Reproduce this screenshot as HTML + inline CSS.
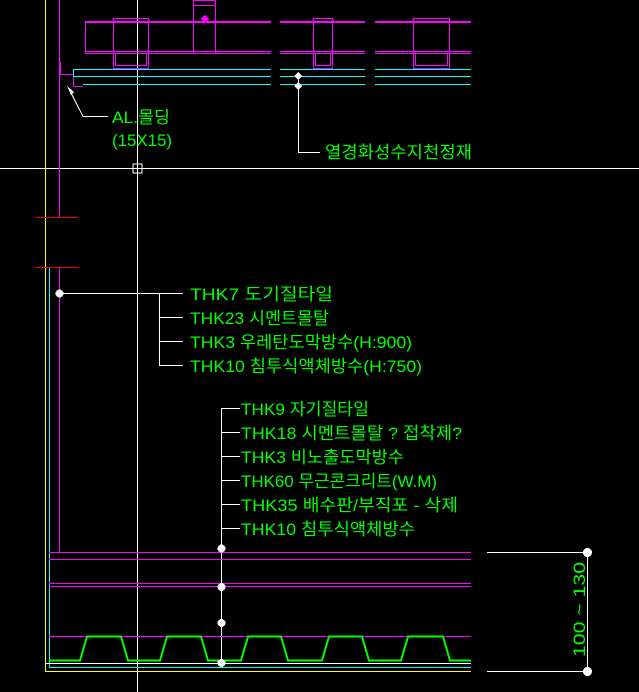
<!DOCTYPE html>
<html><head><meta charset="utf-8"><style>
html,body{margin:0;padding:0;background:#000;width:639px;height:692px;overflow:hidden}
svg{display:block}
text{font-family:"Liberation Sans","Noto Sans CJK KR","NanumGothic",sans-serif;fill:#00ff00;font-size:17px}
</style></head><body>
<svg width="639" height="692" viewBox="0 0 639 692" xmlns="http://www.w3.org/2000/svg" shape-rendering="crispEdges">
<line x1="0" y1="168.5" x2="639" y2="168.5" stroke="#fff"/>
<line x1="137.5" y1="0" x2="137.5" y2="692" stroke="#fff"/>
<rect x="133" y="164" width="9" height="9" fill="none" stroke="#fff"/>
<line x1="45.5" y1="0" x2="45.5" y2="672" stroke="#ff0"/>
<line x1="45" y1="671.5" x2="471" y2="671.5" stroke="#ff0"/>
<line x1="59.5" y1="0" x2="59.5" y2="217" stroke="#f0f"/>
<line x1="59.5" y1="267" x2="59.5" y2="552" stroke="#f0f"/>
<line x1="49.5" y1="268" x2="49.5" y2="668" stroke="#0ff"/>
<line x1="49" y1="667.5" x2="471" y2="667.5" stroke="#0ff"/>
<line x1="36" y1="217.5" x2="78" y2="217.5" stroke="#e00"/>
<line x1="36" y1="267.5" x2="79" y2="267.5" stroke="#e00"/>

<g stroke="#f0f" fill="none">
<rect x="85" y="21" width="186" height="2" fill="#f0f" stroke="none"/>
<rect x="280" y="21" width="85" height="2" fill="#f0f" stroke="none"/>
<rect x="375" y="21" width="96" height="2" fill="#f0f" stroke="none"/>
<line x1="85.5" y1="22" x2="85.5" y2="53"/>
<line x1="85" y1="51.5" x2="271" y2="51.5"/><line x1="85" y1="53.5" x2="271" y2="53.5"/>
<line x1="280" y1="51.5" x2="365" y2="51.5"/><line x1="280" y1="53.5" x2="365" y2="53.5"/>
<line x1="375" y1="51.5" x2="471" y2="51.5"/><line x1="375" y1="53.5" x2="471" y2="53.5"/>
<rect x="193.5" y="0.5" width="22" height="53"/>
<line x1="193" y1="5.5" x2="216" y2="5.5"/>
<path d="M113.5 18.5H148.5V68.5H113.5Z"/>
<rect x="115.5" y="53.5" width="31" height="12"/>
<path d="M313.5 18.5H332.5V68.5H313.5Z"/><rect x="315.5" y="53.5" width="15" height="12"/>
<path d="M413.5 18.5H449.5V68.5H413.5Z"/><rect x="415.5" y="53.5" width="32" height="12"/>
<path d="M60.5 62V74.5H73.5V86.5H83"/>
</g>
<rect x="202" y="16" width="6" height="6" fill="#f0f" transform="rotate(45 205 19)"/>
<g stroke="#0ff">
<line x1="73" y1="69.5" x2="271" y2="69.5"/><line x1="280" y1="69.5" x2="365" y2="69.5"/><line x1="375" y1="69.5" x2="471" y2="69.5"/>
<line x1="73.5" y1="69" x2="73.5" y2="77"/>
<line x1="73" y1="76.5" x2="271" y2="76.5"/><line x1="280" y1="76.5" x2="365" y2="76.5"/><line x1="375" y1="76.5" x2="471" y2="76.5"/>
<line x1="83" y1="84.5" x2="271" y2="84.5"/><line x1="280" y1="84.5" x2="365" y2="84.5"/><line x1="375" y1="84.5" x2="471" y2="84.5"/>
</g>
<path d="M68 87L83 116.5H108" stroke="#fff" fill="none"/>
<polygon points="67,86 74,92 71,95" fill="#fff"/>
<text x="112" y="123" textLength="58" lengthAdjust="spacingAndGlyphs">AL.몰딩</text>
<text x="112" y="146" textLength="60" lengthAdjust="spacingAndGlyphs">(15X15)</text>
<path d="M298.5 80V152.5H320" stroke="#fff" fill="none"/>
<polygon points="298,72 302,76 298,80 294,76" fill="#fff"/>
<polygon points="298,82 302,86 298,90 294,86" fill="#fff"/>
<text x="325" y="158" textLength="147" lengthAdjust="spacingAndGlyphs">열경화성수지천정재</text>

<g stroke="#fff" fill="none">
<line x1="59" y1="293.5" x2="183" y2="293.5"/>
<path d="M159.5 293V365.5H183M159 317.5H183M159 341.5H183"/>
</g>
<circle cx="59.5" cy="293.5" r="4" fill="#fff"/>
<text x="190" y="300" textLength="143" lengthAdjust="spacingAndGlyphs">THK7 도기질타일</text>
<text x="190" y="324" textLength="139" lengthAdjust="spacingAndGlyphs">THK23 시멘트몰탈</text>
<text x="190" y="348" textLength="222" lengthAdjust="spacingAndGlyphs">THK3 우레탄도막방수(H:900)</text>
<text x="190" y="372" textLength="232" lengthAdjust="spacingAndGlyphs">THK10 침투식액체방수(H:750)</text>

<g stroke="#fff" fill="none">
<path d="M221.5 408.5H240M221.5 408V663M221 432.5H240M221 456.5H240M221 480.5H240M221 504.5H240M221 528.5H240"/>
</g>
<text x="241" y="415" textLength="128" lengthAdjust="spacingAndGlyphs">THK9 자기질타일</text>
<text x="241" y="439" textLength="221" lengthAdjust="spacingAndGlyphs">THK18 시멘트몰탈 ? 접착제?</text>
<text x="241" y="463" textLength="163" lengthAdjust="spacingAndGlyphs">THK3 비노출도막방수</text>
<text x="241" y="487" textLength="196" lengthAdjust="spacingAndGlyphs">THK60 무근콘크리트(W.M)</text>
<text x="241" y="511" textLength="217" lengthAdjust="spacingAndGlyphs">THK35 배수판/부직포 - 삭제</text>
<text x="241" y="535" textLength="174" lengthAdjust="spacingAndGlyphs">THK10 침투식액체방수</text>

<g stroke="#f0f">
<line x1="49" y1="552.5" x2="471" y2="552.5"/>
<line x1="49" y1="559.5" x2="471" y2="559.5"/>
<line x1="49" y1="583.5" x2="471" y2="583.5"/>
<line x1="49" y1="586.5" x2="471" y2="586.5"/>
<line x1="49" y1="636.5" x2="471" y2="636.5"/>
</g>
<path d="M49 660.5H80L87 636.5H121L128 660.5H160L167 636.5H201L208 660.5H241L248 636.5H281L288 660.5H322L329 636.5H362L369 660.5H401L408 636.5H443L450 660.5H471" stroke="#0f0" stroke-width="2" fill="none" shape-rendering="auto"/>
<line x1="45" y1="663.5" x2="471" y2="663.5" stroke="#fff"/>
<g fill="#fff">
<circle cx="221.5" cy="548.5" r="4"/><circle cx="221.5" cy="587" r="4"/>
<circle cx="221.5" cy="623" r="4"/><circle cx="221.5" cy="663" r="4"/>
</g>

<g stroke="#fff">
<line x1="487" y1="552.5" x2="587" y2="552.5"/>
<line x1="487" y1="671.5" x2="587" y2="671.5"/>
<line x1="587.5" y1="552" x2="587.5" y2="672"/>
</g>
<circle cx="587.5" cy="552.5" r="4.5" fill="#fff"/>
<circle cx="587.5" cy="671.5" r="4.5" fill="#fff"/>
<text x="0" y="0" font-size="22" textLength="95" lengthAdjust="spacingAndGlyphs" transform="translate(585 657) rotate(-90)">100 ~ 130</text>
</svg>
</body></html>
